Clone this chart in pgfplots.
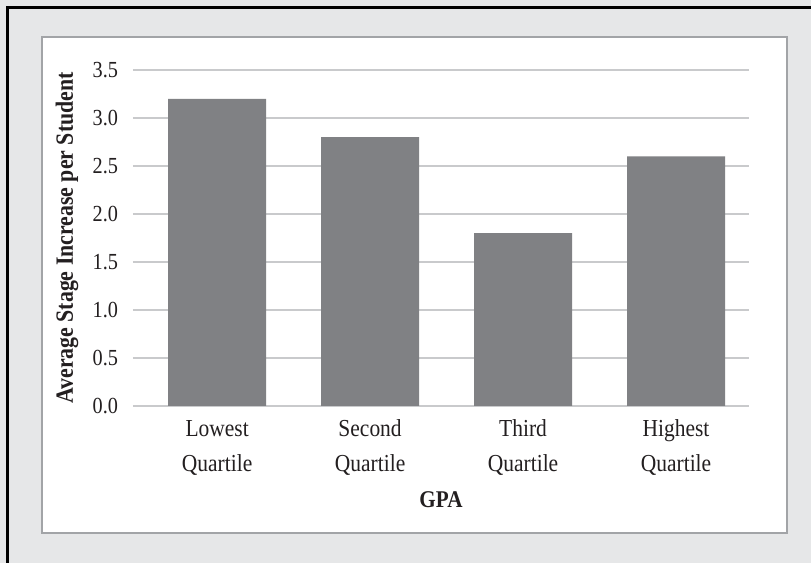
\documentclass[border=0pt]{standalone}
\usepackage{pgfplots}
\pgfplotsset{compat=1.18}
\usepackage{fontspec}
\setmainfont{Liberation Serif}[FakeStretch=0.88]
\definecolor{bgray}{HTML}{E6E7E8}
\definecolor{boxline}{HTML}{A2A4A7}
\definecolor{barc}{HTML}{808184}
\definecolor{gridc}{HTML}{C9CACC}
\definecolor{txt}{HTML}{231F20}
\begin{document}
\begin{tikzpicture}
\useasboundingbox (0,0) rectangle (405.5pt,281.5pt);
\fill[bgray] (0,0) rectangle (405.5pt,281.5pt);
\draw[black,line width=1.5pt] (4pt,0) -- (4pt,277.5pt) -- (405.5pt,277.5pt);
\draw[boxline,fill=white,line width=1.2pt] (21pt,15pt) rectangle (393.5pt,263pt);
\begin{axis}[
  at={(66.5pt,78.5pt)}, anchor=south west,
  scale only axis, width=308pt, height=168pt,
  xmin=-0.55, xmax=3.477, ymin=0, ymax=3.5,
  axis line style={draw=none},
  major tick length=0pt,
  ytick={0,0.5,...,3.5},
  yticklabel style={/pgf/number format/fixed,/pgf/number format/fixed zerofill,/pgf/number format/precision=1,
    /pgf/number format/assume math mode=true, font=\fontsize{11.5}{13}\selectfont, text=txt, xshift=-4pt},
  xtick={0,1,2,3},
  xticklabels={{Lowest\\Quartile},{Second\\Quartile},{Third\\Quartile},{Highest\\Quartile}},
  xticklabel style={align=center, font=\fontsize{12.2}{17.5}\selectfont, text=txt, yshift=-3.5pt},
  ymajorgrids, grid style={gridc, line width=0.8pt},
  xlabel={\textbf{GPA}},
  xlabel style={at={(axis description cs:0.5,0)}, anchor=base, yshift=-51pt, font=\fontsize{12}{14}\selectfont, text=txt},
  ylabel={\textbf{Average Stage Increase per Student}},
  ylabel style={at={(axis description cs:0,0.5)}, anchor=center, yshift=33pt, font=\fontsize{12.4}{14}\selectfont, text=txt},
  clip=false,
]
\addplot[ybar, bar width=49pt, fill=barc, draw=none] coordinates {(0,3.2) (1,2.8) (2,1.8) (3,2.6)};
\end{axis}
\end{tikzpicture}
\end{document}
